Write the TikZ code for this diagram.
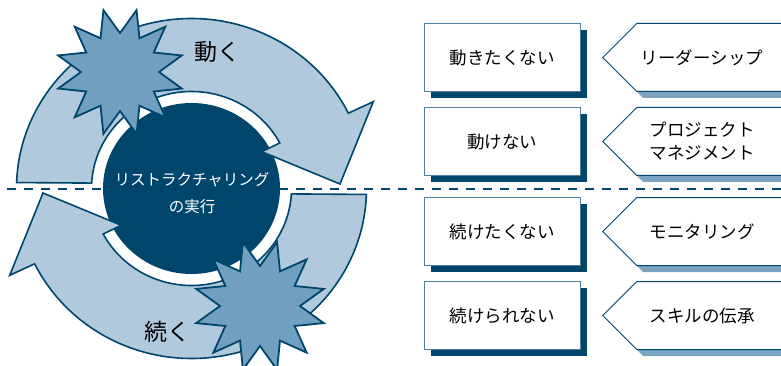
\documentclass[tikz,border=0pt]{standalone}
\usepackage{fontspec}
\setmainfont{Noto Sans CJK JP}
\usetikzlibrary{calc,shadows}
\definecolor{navy}{HTML}{00466C}
\definecolor{arrowfill}{HTML}{B1C9DC}
\definecolor{starfill}{HTML}{709FBF}
\definecolor{boxedge}{HTML}{4D7E9E}
\definecolor{pentshadow}{HTML}{7BA4C2}
\begin{document}
\begin{tikzpicture}[x=1pt,y=1pt,
  arrowshape/.style={fill=arrowfill, draw=navy, line width=1.6pt, line join=miter},
  starshape/.style={fill=starfill, draw=navy, line width=1.8pt, line join=miter},
  boxnode/.style={draw=boxedge, line width=1pt, fill=white, minimum width=156pt,
    minimum height=68pt, inner sep=0pt, font=\fontsize{17.5}{21}\selectfont,
    drop shadow={shadow xshift=6.5pt, shadow yshift=-6.5pt, fill=navy, opacity=1}},
  pentshape/.style={draw=navy, line width=1pt, fill=white, line join=miter},
  pentshadow/.style={fill=pentshadow},
  penttext/.style={align=center, font=\fontsize{17.5}{23}\selectfont, inner sep=0pt},
  bigtext/.style={font=\fontsize{23}{26}\selectfont, inner sep=0pt}]
\useasboundingbox (0,0) rectangle (781,-366);
\clip (0,0) rectangle (781,-366);
\coordinate (C) at (191.5,-188.5);
\coordinate (dl) at (7,-189);
\coordinate (dr) at (781,-189);
% dashed divider
\draw[navy, line width=2.6pt, dash pattern=on 9pt off 8pt] (dl) -- (dr);
% central disc
\fill[navy] (C) ellipse [x radius=88.5pt, y radius=85.5pt];
% two circular arrows
\begin{scope}[shift={(C)}]
\draw[arrowshape] (176.8:100pt and 97pt) -- (178:175pt and 170pt)
  arc[start angle=178, end angle=26.3, x radius=175pt, y radius=170pt]
  -- (181.8,86.8) -- (148.5,4.5) -- (70.2,36.8) -- (28:100pt and 97pt)
  arc[start angle=28, end angle=176.8, x radius=100pt, y radius=97pt] -- cycle;
\end{scope}
\begin{scope}[shift={(C)}, rotate=180]
\draw[arrowshape] (176.8:100pt and 97pt) -- (178:175pt and 170pt)
  arc[start angle=178, end angle=26.3, x radius=175pt, y radius=170pt]
  -- (181.8,86.8) -- (148.5,4.5) -- (70.2,36.8) -- (28:100pt and 97pt)
  arc[start angle=28, end angle=176.8, x radius=100pt, y radius=97pt] -- cycle;
\end{scope}
% stars
\draw[starshape] plot[samples at={0,...,23}]
  ({120+(mod(\x,2)==0?64:39)*cos(15*\x+15)}, {-72+(mod(\x,2)==0?64:39)*sin(15*\x+15)}) -- cycle;
\draw[starshape] plot[samples at={0,...,23}]
  ({260+(mod(\x,2)==0?66:40)*cos(15*\x+15)}, {-306+(mod(\x,2)==0?66:40)*sin(15*\x+15)}) -- cycle;
% labels
\node[bigtext] (move) at (217.5,-51.5) {動く};
\node[bigtext] (cont) at (167.5,-331.5) {続く};
\node[text=white, align=center, font=\fontsize{15.5}{26.7}\selectfont, inner sep=0pt] (ct) at (192,-193.3) {リストラクチャリング\\の実行};
% left boxes
\node[boxnode] (b1) at (502,-57.5) {動きたくない};
\node[boxnode] (b2) at (502,-141.5) {動けない};
\node[boxnode] (b3) at (502,-231.5) {続けたくない};
\node[boxnode] (b4) at (502,-315.5) {続けられない};
% right pentagons
\foreach \m in {57.5,141.5,231.5,315.5}{
  \begin{scope}[shift={(0,-\m)}]
    \fill[pentshadow] (643.2,27.5) -- (806.5,27.5) -- (806.5,-40.5) -- (643.2,-40.5) -- (609.2,-6.5) -- cycle;
    \draw[pentshape] (636.7,34) -- (800,34) -- (800,-34) -- (636.7,-34) -- (602.7,0) -- cycle;
  \end{scope}
}
\node[penttext] (p1) at (702,-57.5) {リーダーシップ};
\node[penttext] (p2) at (702,-141.5) {プロジェクト\\マネジメント};
\node[penttext] (p3) at (702,-231.5) {モニタリング};
\node[penttext] (p4) at (702,-315.5) {スキルの伝承};
\end{tikzpicture}
\end{document}
